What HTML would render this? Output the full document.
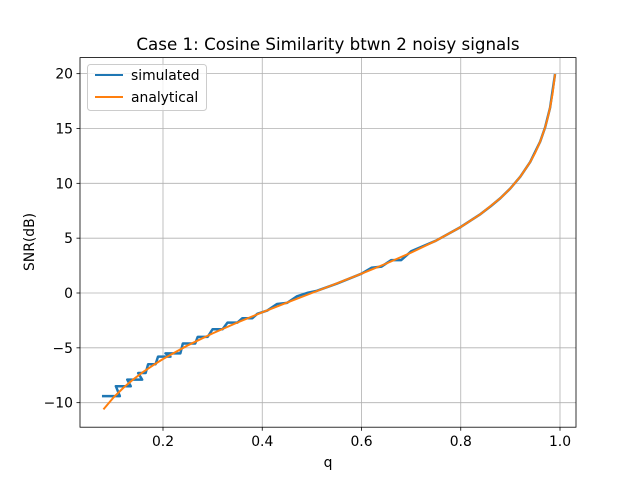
<!DOCTYPE html>
<html><head><meta charset="utf-8"><style>
html,body{margin:0;padding:0;background:#fff}
svg{display:block;font-family:"DejaVu Sans","Liberation Sans",sans-serif}
</style></head><body>
<svg id="chart" width="640" height="480" xmlns="http://www.w3.org/2000/svg">
<rect width="640" height="480" fill="#fff"/>
<g id="grid"></g>
<g id="series"></g>
<rect x="80" y="57.6" width="496" height="369.6" fill="none" stroke="#000" stroke-width="0.8"/>
<g id="ticks"></g>
<text x="328" y="50" text-anchor="middle" font-size="16.7">Case 1: Cosine Similarity btwn 2 noisy signals</text>
<text x="328" y="467" text-anchor="middle" font-size="13.9">q</text>
<text transform="translate(34,242) rotate(-90)" text-anchor="middle" font-size="13.9">SNR(dB)</text>
<g>
<rect x="87.5" y="64.5" width="119" height="46" rx="3" fill="#fff" fill-opacity="0.8" stroke="#ccc"/>
<line x1="95" y1="75" x2="123" y2="75" stroke="#1f77b4" stroke-width="2"/>
<text x="131" y="80" font-size="13.9">simulated</text>
<line x1="95" y1="97" x2="123" y2="97" stroke="#ff7f0e" stroke-width="2"/>
<text x="131" y="102" font-size="13.9">analytical</text>
</g>
</svg>
<script>
const xTicks=[0.2,0.4,0.6,0.8,1.0];
const xTickLabels=["0.2","0.4","0.6","0.8","1.0"];
const yTicks=[-10,-5,0,5,10,15,20];
const yTickLabels=["−10","−5","0","5","10","15","20"];
const anaQ=[0.08,0.1,0.12,0.14,0.16,0.18,0.2,0.25,0.3,0.35,0.4,0.45,0.5,0.55,0.6,0.65,0.7,0.75,0.8,0.84,0.88,0.9,0.92,0.94,0.95,0.96,0.97,0.975,0.98,0.985,0.99];
const anaSNR=[-10.61,-9.54,-8.65,-7.88,-7.20,-6.59,-6.02,-4.77,-3.68,-2.69,-1.76,-0.87,0,0.87,1.76,2.69,3.68,4.77,6.02,7.20,8.65,9.54,10.61,11.95,12.79,13.80,15.10,15.91,16.90,18.17,19.96];
const simQ=[0.077,0.113,0.105,0.135,0.128,0.158,0.150,0.165,0.170,0.185,0.190,0.215,0.205,0.235,0.24,0.265,0.27,0.29,0.30,0.32,0.33,0.35,0.36,0.38,0.39,0.41,0.43,0.45,0.47,0.49,0.51,0.55,0.6,0.62,0.64,0.66,0.68,0.7,0.75,0.8,0.84,0.86,0.88,0.9,0.92,0.94,0.96,0.97,0.98,0.99];
const simSNR=[-9.4,-9.4,-8.5,-8.5,-7.9,-7.9,-7.3,-7.3,-6.5,-6.5,-5.8,-5.8,-5.5,-5.5,-4.6,-4.6,-4.0,-4.0,-3.3,-3.3,-2.7,-2.7,-2.3,-2.3,-1.9,-1.6,-1.0,-0.9,-0.3,0.0,0.2,0.85,1.76,2.3,2.4,3.0,3.0,3.8,4.77,6.02,7.2,7.9,8.65,9.54,10.61,11.95,13.8,15.1,16.9,19.96];
const NS="http://www.w3.org/2000/svg";
const X=v=>63.75+v*496.25;
const Y=v=>293-v*10.967;
const grid=document.getElementById('grid'),ticks=document.getElementById('ticks'),series=document.getElementById('series');
function mk(tag,attrs,parent){const e=document.createElementNS(NS,tag);for(const k in attrs)e.setAttribute(k,attrs[k]);parent.appendChild(e);return e;}
xTicks.forEach((t,i)=>{
 const g=mk('line',{x1:X(t),x2:X(t),y1:57.6,y2:427.2,stroke:'#b0b0b0','stroke-width':0.8},grid);
 
 
 const tk=mk('line',{x1:X(t),x2:X(t),y1:427.2,y2:430.7,stroke:'#000','stroke-width':0.8},ticks);
 
 
 const tx=mk('text',{x:X(t),y:446,'text-anchor':'middle','font-size':13.9},ticks);
 tx.textContent=xTickLabels[i];
 
 
});
yTicks.forEach((t,i)=>{
 const g=mk('line',{x1:80,x2:576,y1:Y(t),y2:Y(t),stroke:'#b0b0b0','stroke-width':0.8},grid);
 
 
 const tk=mk('line',{x1:76.5,x2:80,y1:Y(t),y2:Y(t),stroke:'#000','stroke-width':0.8},ticks);
 
 
 const tx=mk('text',{x:73,y:Y(t)+5,'text-anchor':'end','font-size':13.9},ticks);
 tx.textContent=yTickLabels[i];
 
 
});
const sim=mk('polyline',{points:simQ.map((q,i)=>X(q)+','+Y(simSNR[i])).join(' '),fill:'none',stroke:'#1f77b4','stroke-width':2.5,'stroke-linejoin':'round'},series);


const ana=mk('polyline',{points:anaQ.map((q,i)=>X(q)+','+Y(anaSNR[i])).join(' '),fill:'none',stroke:'#ff7f0e','stroke-width':2,'stroke-linejoin':'round'},series);


</script>
</body></html>
